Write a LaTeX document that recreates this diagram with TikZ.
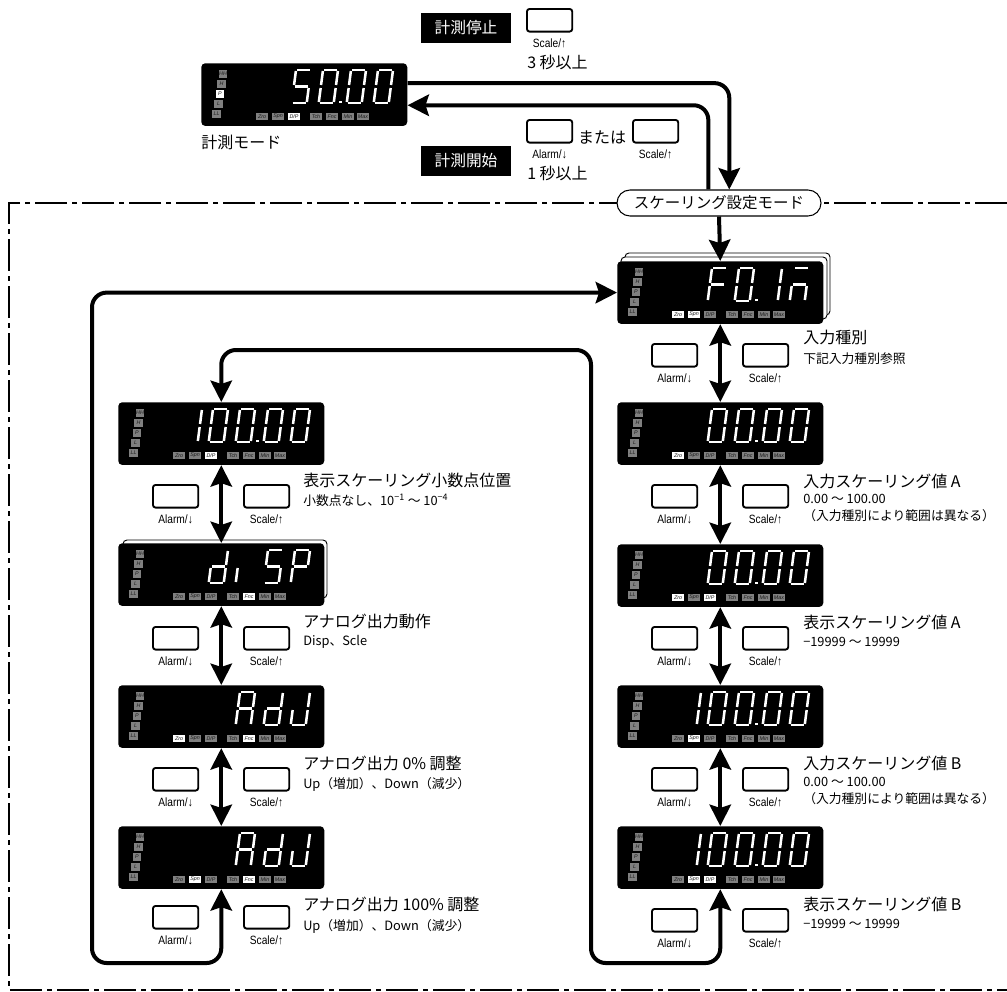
\documentclass[tikz,border=0pt]{standalone}
\usepackage{fontspec}
\setmainfont{Noto Sans CJK JP}
\newfontfamily\keyfont[FakeStretch=0.85]{Liberation Sans}
\newfontfamily\lampfont{Liberation Sans}
\usetikzlibrary{arrows.meta,positioning,shapes.misc}

% seven segments of one digit
\newcommand{\sega}{(1,0) -- (14,0)}
\newcommand{\segb}{(15,1) -- (15,15)}
\newcommand{\segc}{(15,18) -- (15,32)}
\newcommand{\segd}{(1,33) -- (14,33)}
\newcommand{\sege}{(0,18) -- (0,32)}
\newcommand{\segf}{(0,1) -- (0,15)}
\newcommand{\segg}{(1,16.5) -- (14,16.5)}
\newcommand{\segp}{(20.5,32) -- (23,32)}
\newcommand{\defglyph}[2]{\expandafter\def\csname gl#1\endcsname{#2}}
\defglyph{0}{a,b,c,d,e,f}
\defglyph{1}{b,c}
\defglyph{5}{a,c,d,f,g}
\defglyph{F}{a,e,f,g}
\defglyph{n}{a,c,e,g}
\defglyph{d}{b,c,d,e,g}
\defglyph{i}{e}
\defglyph{S}{a,c,d,f,g}
\defglyph{P}{a,b,e,f,g}
\defglyph{A}{a,b,c,e,f,g}
\defglyph{J}{b,c,d,e}
\defglyph{p}{p}

\tikzset{
	panelbox/.style={fill=black, rounded corners=3pt, minimum width=154.5pt, minimum height=47pt, inner sep=0pt, anchor=north west},
	backsheet/.style={draw=black, fill=white, line width=0.7pt, rounded corners=3pt},
	segline/.style={draw=white, line width=1.9pt},
	lamp/.style={fill=black!50, text=black!90, inner sep=0pt, font=\lampfont\itshape\fontsize{4}{4.5}\selectfont},
	lampleft/.style={lamp, minimum width=6.4pt, minimum height=5.4pt},
	lampbottom/.style={lamp, minimum width=8.4pt, minimum height=5pt},
	onlamp/.style={lamp #1/.style={fill=white}},
	keybox/.style={draw=black, fill=white, line width=1.4pt, rounded corners=2pt, minimum width=34pt, minimum height=17pt, inner sep=0pt, anchor=north west},
	keylab/.style={font=\keyfont\fontsize{9}{10}\selectfont, inner sep=0pt},
	flow/.style={line width=3pt, rounded corners=11pt},
	tag/.style={fill=black, text=white, font=\fontsize{11.8}{13}\selectfont, minimum width=67pt, minimum height=23pt, inner sep=0pt},
	title/.style={anchor=west, inner sep=0pt, font=\fontsize{12}{14}\selectfont},
	note/.style={anchor=west, inner sep=0pt, font=\fontsize{9.6}{11}\selectfont},
	framed/.style={line width=0.8pt, dash pattern=on 24pt off 3.75pt on 3.75pt off 3.75pt},
}

% name, x, y, lit lamps, cell/glyph list
\newcommand{\panel}[5]{
	\node[panelbox] (#1) at (#2,#3) {};
	\begin{scope}[shift={(#2,#3)}, onlamp/.list={#4}]
		\foreach \t/\px/\py in {HH/22/11,H/20.5/21,P/19/31,L/17.5/41,LL/15.5/51}
			\node[lampleft, lamp \t/.try] (#1\t) at (\px,\py) {\t};
		\foreach \t/\lb/\px in {Zro/Zro/61,Spn/Spn/77,DP/D\slash P/93,Tch/Tch/115,Fnc/Fnc/131,Min/Min/147,Max/Max/162}
			\node[lampbottom, lamp \t/.try] (#1\t) at (\px,53.5) {\lb};
		\foreach \cx/\g in {#5} {
			\edef\seglist{\csname gl\g\endcsname}
			\begin{scope}[shift={(\cx+4,7)}, xslant=0.13]
				\foreach \s in \seglist {\draw[segline] \csname seg\s\endcsname;}
			\end{scope}
		}
	\end{scope}
}
% name, panel x, key y
\newcommand{\keypair}[3]{
	\node[keybox] (#1a) at (#2+34,#3) {};
	\node[keybox] (#1s) at (#2+125,#3) {};
	\node[keylab, below=4.5pt of #1a] (#1al) {Alarm/↓};
	\node[keylab, below=4.5pt of #1s] (#1sl) {Scale/↑};
}

\begin{document}
\begin{tikzpicture}[x=0.75pt, y=-0.75pt, >={Stealth[length=16pt,width=16pt,inset=2.5pt]}]
	\useasboundingbox (0,0) rectangle (1007,992);
	\draw[framed] (1007,203) -- (9,203) -- (9,990) -- (1007,990);

	% measuring mode
	\panel{mode}{201}{63}{P,DP}{91/5,118/0,118/p,146/0,173/0}
	\node[title] (modet) at (201,142) {計測モード};
	\node[tag] (stoptag) at (466,28) {計測停止};
	\node[keybox] (stopkey) at (526,8) {};
	\node[keylab, below=4.5pt of stopkey] (stopkeyl) {Scale/↑};
	\node[title] (stopt) at (527,62) {3 秒以上};
	\node[tag] (starttag) at (466,161) {計測開始};
	\node[keybox] (startkeya) at (526,119) {};
	\node[keybox] (startkeys) at (632,119) {};
	\node[keylab, below=4.5pt of startkeya] (startkeyal) {Alarm/↓};
	\node[keylab, below=4.5pt of startkeys] (startkeysl) {Scale/↑};
	\node[title, anchor=center] (startor) at (602,138) {または};
	\node[title] (startt) at (527,173) {1 秒以上};

	% scaling mode
	\node[draw=black, fill=white, line width=0.8pt, rounded rectangle, minimum width=153pt, minimum height=19.5pt, inner sep=0pt, font=\fontsize{11.6}{13}\selectfont] (pill) at (719,203) {スケーリング設定モード};
	\draw[->, flow] ([yshift=8.6pt]mode.east) -| ([xshift=7.7pt]pill.north);
	\draw[->, flow] ([xshift=-8pt]pill.north) |- ([yshift=-8pt]mode.east);

	% right column
	\draw[backsheet] (625,253) rectangle (830,315);
	\draw[backsheet] (621,257) rectangle (827,319);
	\panel{finp}{617}{261}{Zro,Spn}{91/F,118/0,118/p,146/1,173/n}
	\panel{inpa}{617}{402}{Zro}{91/0,118/0,118/p,146/0,173/0}
	\panel{dispa}{617}{544}{Zro,DP}{91/0,118/0,118/p,146/0,173/0}
	\panel{inpb}{617}{685}{Spn}{65/1,91/0,118/0,118/p,146/0,173/0}
	\panel{dispb}{617}{826}{Spn,DP}{65/1,91/0,118/0,118/p,146/0,173/0}
	\keypair{finpk}{617}{343}
	\keypair{inpak}{617}{484}
	\keypair{dispak}{617}{626}
	\keypair{inpbk}{617}{767}
	\keypair{dispbk}{617}{908}

	% left column
	\draw[backsheet] (123,540) rectangle (327,598);
	\panel{dpoint}{118}{402}{DP}{65/1,91/0,118/0,118/p,146/0,173/0}
	\panel{aout}{118}{543}{Fnc}{91/d,118/i,146/S,173/P}
	\panel{adjz}{118}{685}{Zro,Fnc}{118/A,146/d,173/J}
	\panel{adjf}{118}{826}{Spn,Fnc}{118/A,146/d,173/J}
	\keypair{dpointk}{118}{484}
	\keypair{aoutk}{118}{626}
	\keypair{adjzk}{118}{767}
	\keypair{adjfk}{118}{905}

	% connectors
	\coordinate (loopa) at (92,963);
	\coordinate (loopb) at (591,963);
	\coordinate (loopc) at (591,350);
	\draw[->, flow] (pill.south) -- (finp.north);
	\foreach \a/\b in {finp/inpa,inpa/dispa,dispa/inpb,inpb/dispb,dpoint/aout,aout/adjz,adjz/adjf}
		\draw[<->, flow] (\a.south) -- (\b.north);
	\draw[<->, flow] (adjf.south) |- (loopa) |- (finp.west);
	\draw[<->, flow] (dispb.south) |- (loopb) -- (loopc) -| (dpoint.north);

	% texts
	\node[title] (finpt) at (803,337) {入力種別};
	\node[note] (finpn) at (803,359) {下記入力種別参照};
	\node[title] (inpat) at (803,481) {入力スケーリング値 A};
	\node[note] (inpan) at (803,499) {0.00 ～ 100.00};
	\node[note] (inpam) at (803,516) {（入力種別により範囲は異なる）};
	\node[title] (dispat) at (803,622) {表示スケーリング値 A};
	\node[note] (dispan) at (803,642) {−19999 ～ 19999};
	\node[title] (inpbt) at (803,763) {入力スケーリング値 B};
	\node[note] (inpbn) at (803,782) {0.00 ～ 100.00};
	\node[note] (inpbm) at (803,799) {（入力種別により範囲は異なる）};
	\node[title] (dispbt) at (803,904) {表示スケーリング値 B};
	\node[note] (dispbn) at (803,924) {−19999 ～ 19999};
	\node[title] (dpointt) at (303,480) {表示スケーリング小数点位置};
	\node[note] (dpointn) at (303,500) {小数点なし、10\textsuperscript{−1} ～ 10\textsuperscript{−4}};
	\node[title] (aoutt) at (303,621) {アナログ出力動作};
	\node[note] (aoutn) at (303,642) {Disp、Scle};
	\node[title] (adjzt) at (303,763) {アナログ出力 0\% 調整};
	\node[note] (adjzn) at (303,784) {Up（増加）、Down（減少）};
	\node[title] (adjft) at (303,904) {アナログ出力 100\% 調整};
	\node[note] (adjfn) at (303,926) {Up（増加）、Down（減少）};
\end{tikzpicture}
\end{document}
